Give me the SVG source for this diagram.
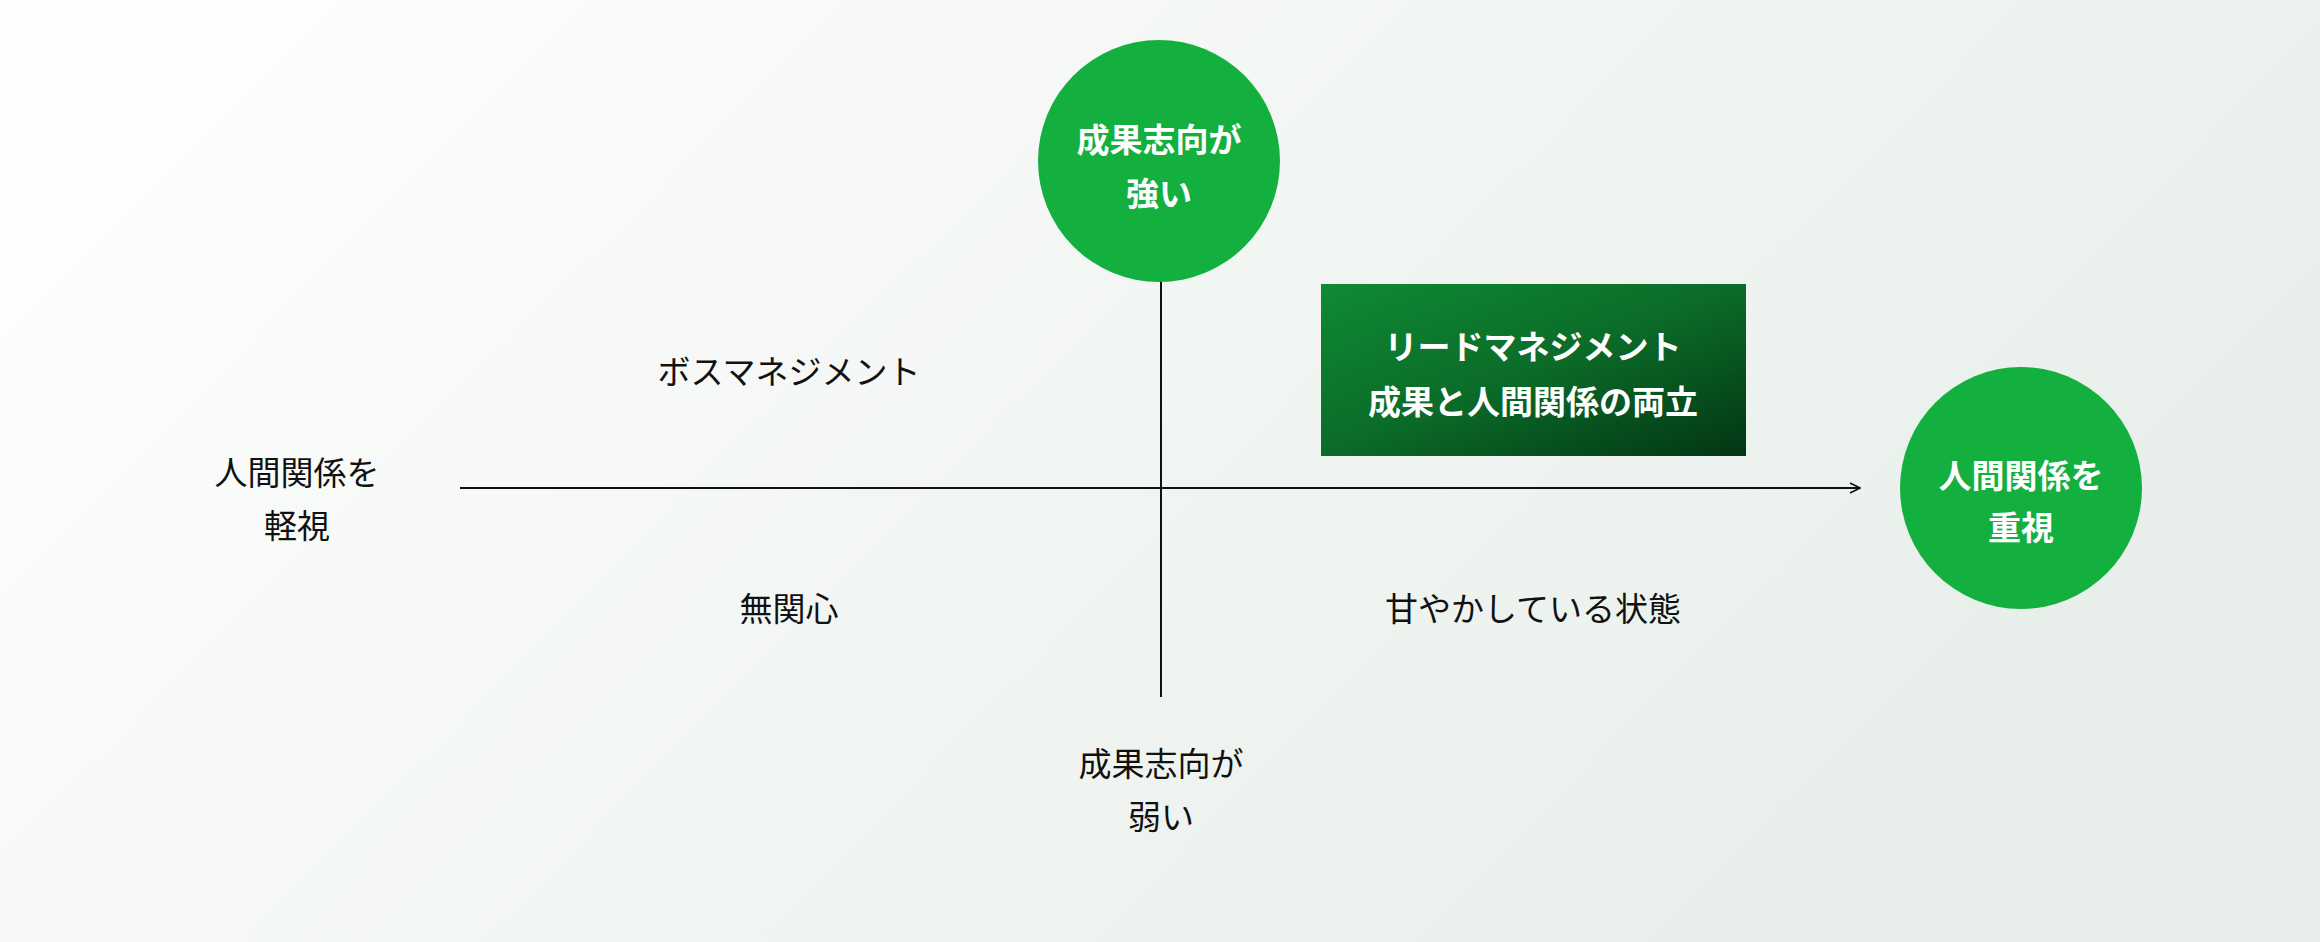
<svg xmlns="http://www.w3.org/2000/svg" width="2320" height="942" viewBox="0 0 2320 942">
<defs>
<linearGradient id="bg" x1="0" y1="0" x2="1" y2="0.4">
<stop offset="0" stop-color="#ffffff"/><stop offset="1" stop-color="#e8efea"/>
</linearGradient>
<linearGradient id="box" x1="0" y1="0" x2="1" y2="1">
<stop offset="0" stop-color="#0f8a34"/><stop offset="0.5" stop-color="#0b6b28"/><stop offset="1" stop-color="#033514"/>
</linearGradient>
<marker id="arr" viewBox="0 0 12 12" refX="11" refY="6" markerWidth="12" markerHeight="12" markerUnits="userSpaceOnUse" orient="auto">
<path d="M1,1 L11,6 L1,11" fill="none" stroke="#111" stroke-width="1.6"/>
</marker>
<style>
text{font-family:"Noto Sans CJK JP","Noto Sans",sans-serif;text-anchor:middle;dominant-baseline:central}
.w{fill:#fff;font-weight:700;font-size:33px}
.b{fill:#111;font-size:33px}
.c{fill:#13b040}
</style>
</defs>
<rect width="2320" height="942" fill="url(#bg)"/>
<g id="connectors" stroke="#111" stroke-width="2" fill="none">
<line x1="460" y1="488" x2="1860" y2="488" marker-end="url(#arr)"/>
<line x1="1161" y1="697" x2="1161" y2="244" marker-end="url(#arr)"/>
</g>
<g id="top"><circle class="c" cx="1159" cy="161" r="121"/>
<text class="w" x="1159" y="138">成果志向が</text><text class="w" x="1159" y="192">強い</text></g>
<g id="right"><circle class="c" cx="2021" cy="488" r="121"/>
<text class="w" x="2021" y="474">人間関係を</text><text class="w" x="2021" y="526">重視</text></g>
<g id="lead"><rect x="1321" y="284" width="425" height="172" fill="url(#box)"/>
<text class="w" x="1533" y="345">リードマネジメント</text><text class="w" x="1533" y="400">成果と人間関係の両立</text></g>
<g id="left"><text class="b" x="297" y="471">人間関係を</text><text class="b" x="297" y="524">軽視</text></g>
<g id="bottom"><text class="b" x="1161" y="762">成果志向が</text><text class="b" x="1161" y="815">弱い</text></g>
<g id="boss"><text class="b" x="789" y="370">ボスマネジメント</text></g>
<g id="mukan"><text class="b" x="789" y="607">無関心</text></g>
<g id="amaya"><text class="b" x="1533" y="607">甘やかしている状態</text></g>
</svg>
